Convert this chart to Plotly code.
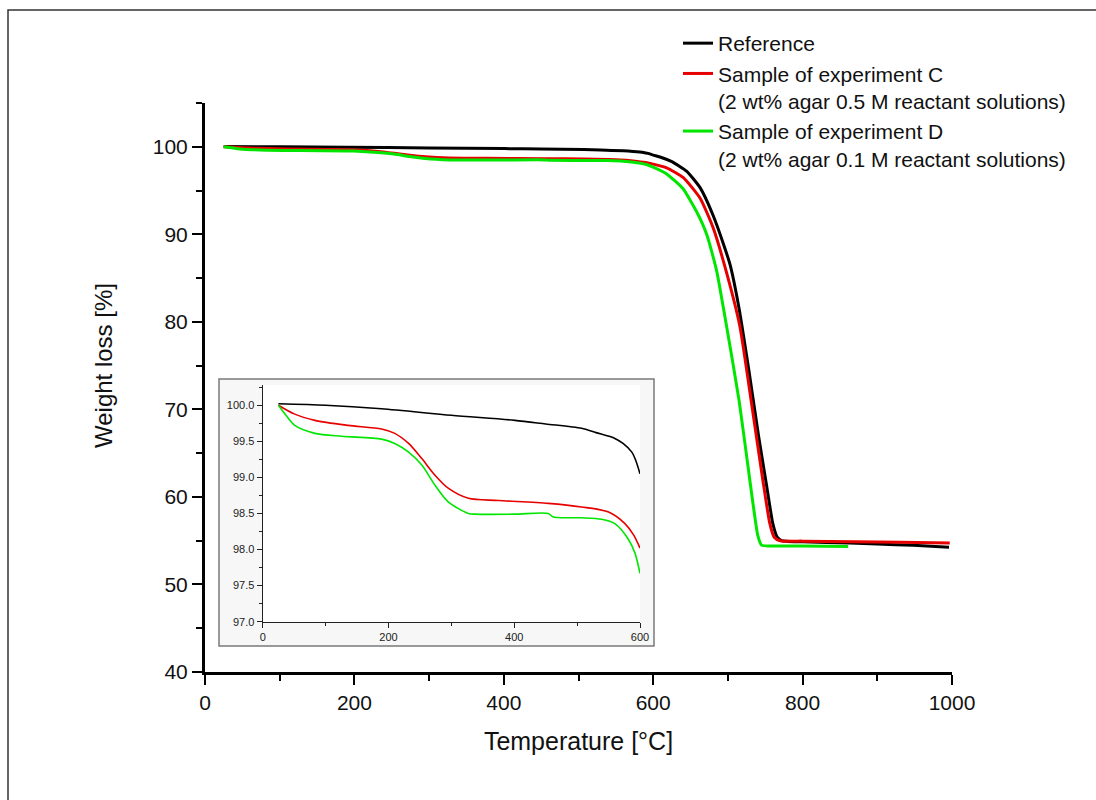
import plotly.graph_objects as go

# ---------------- data ----------------
ref_T = [25, 100, 189, 300, 401, 450, 507, 530, 560, 573, 587, 593, 600, 612, 625, 645, 663, 680, 694,
         703, 715, 728, 741, 752, 760, 766, 772, 780, 800, 863, 900, 948, 996]
ref_W = [100.02, 100.0, 99.95, 99.86, 99.79, 99.74, 99.68, 99.62, 99.54, 99.47, 99.35, 99.24, 99.05, 98.75, 98.3, 97.2, 95.3, 92.2, 88.9,
         86.5, 81.5, 74.5, 67.0, 61.2, 57.0, 55.4, 55.0, 54.92, 54.88, 54.73, 54.62, 54.47, 54.24]

c_T = [25, 50, 83, 136, 189, 210, 232, 253, 274, 295, 327, 375, 454, 507, 550, 576, 590, 600,
       618, 640, 663, 680, 696, 716, 732, 747, 756, 762, 770, 800, 870, 930, 997]
c_W = [100.0, 99.88, 99.79, 99.72, 99.67, 99.61, 99.47, 99.26, 99.03, 98.85, 98.71, 98.68, 98.64, 98.59, 98.52, 98.36, 98.2, 98.02,
       97.6, 96.5, 94.1, 90.8, 86.3, 79.5, 70.5, 61.8, 57.0, 55.4, 55.0, 54.95, 54.88, 54.82, 54.73]

d_T = [25, 38, 51, 83, 126, 189, 210, 232, 253, 274, 295, 327, 338, 400, 454, 462, 507, 539, 560, 581, 592, 600,
       618, 640, 658, 672, 685, 698, 715, 730, 740, 745, 755, 800, 861]
d_W = [100.0, 99.85, 99.72, 99.61, 99.57, 99.53, 99.47, 99.35, 99.17, 98.89, 98.66, 98.50, 98.49, 98.49, 98.50, 98.45, 98.44, 98.42, 98.36, 98.15, 97.95, 97.67,
       96.9, 95.2, 92.6, 89.9, 85.8, 79.6, 71.0, 61.5, 55.6, 54.5, 54.4, 54.38, 54.35]

series_names = ["Reference",
                "Sample of experiment C<br>(2 wt% agar 0.5 M reactant solutions)",
                "Sample of experiment D<br>(2 wt% agar 0.1 M reactant solutions)"]
series_colors = ["#000000", "#e60000", "#00e600"]

main_xticks = [0, 200, 400, 600, 800, 1000]
main_yticks = [40, 50, 60, 70, 80, 90, 100]
inset_xticks = [0, 200, 400, 600]
inset_yticks = [97.0, 97.5, 98.0, 98.5, 99.0, 99.5, 100.0]
INSET_MAX_T = 600

FONT = "Liberation Sans, Arial, sans-serif"

fig = go.Figure()
all_series = [(ref_T, ref_W), (c_T, c_W), (d_T, d_W)]

# main traces
for (T, W), name, col in zip(all_series, series_names, series_colors):
    fig.add_trace(go.Scatter(x=T, y=W, mode="lines", name=name,
                             line=dict(color=col, width=3, shape="spline", smoothing=0.5),
                             xaxis="x", yaxis="y"))

# inset traces (same data, restricted to T <= 600)
for (T, W), name, col in zip(all_series, series_names, series_colors):
    Ti = [t for t in T if t <= INSET_MAX_T]
    Wi = [w for t, w in zip(T, W) if t <= INSET_MAX_T]
    fig.add_trace(go.Scatter(x=Ti, y=Wi, mode="lines", name=name, showlegend=False,
                             line=dict(color=col, width=1.6, shape="spline", smoothing=0.8),
                             xaxis="x2", yaxis="y2"))

W_, H_ = 1096, 800
L, R, Tm, B = 205, 1096 - 952, 103, 800 - 672
pw, ph = W_ - L - R, H_ - Tm - B

def px2x(px):
    return (px - L) / pw

def py2y(py):
    return (H_ - B - py) / ph

fig.update_layout(
    width=W_, height=H_,
    margin=dict(l=L, r=R, t=Tm, b=B, pad=0),
    paper_bgcolor="white", plot_bgcolor="white",
    font=dict(family=FONT, color="#111111"),
    showlegend=True,
    legend=dict(x=px2x(678), y=py2y(23), xanchor="left", yanchor="top",
                font=dict(size=21, family=FONT, color="#111111"),
                bgcolor="rgba(0,0,0,0)", valign="top", tracegroupgap=0),
    xaxis=dict(domain=[0, 1], range=[0, 1000], tickvals=main_xticks,
               ticks="outside", ticklen=10, tickwidth=2, tickcolor="black",
               showline=True, linewidth=3, linecolor="black", showgrid=False, zeroline=False,
               minor=dict(dtick=100, tick0=0, ticks="outside", ticklen=6, tickwidth=2, tickcolor="black", showgrid=False),
               tickfont=dict(size=21, family=FONT, color="#111111"),
               title=dict(text="Temperature [°C]", font=dict(size=25, family=FONT, color="#111111"), standoff=20),
               anchor="y"),
    yaxis=dict(domain=[0, 1], range=[40, 105], tickvals=main_yticks,
               ticks="outside", ticklen=10, tickwidth=2, tickcolor="black",
               showline=True, linewidth=3, linecolor="black", showgrid=False, zeroline=False,
               minor=dict(dtick=10, tick0=45, ticks="outside", ticklen=6, tickwidth=2, tickcolor="black", showgrid=False),
               tickfont=dict(size=21, family=FONT, color="#111111"),
               anchor="x"),
    xaxis2=dict(domain=[px2x(262.7), px2x(640)], range=[0, 600], tickvals=inset_xticks,
                ticks="outside", ticklen=5, tickwidth=1, tickcolor="#222",
                showline=True, linewidth=1.2, linecolor="#222", showgrid=False, zeroline=False,
                minor=dict(dtick=100, tick0=0, ticks="outside", ticklen=3, tickwidth=1, tickcolor="#222", showgrid=False),
                tickfont=dict(size=11, family=FONT, color="#222222"), anchor="y2"),
    yaxis2=dict(domain=[py2y(621.7), py2y(385)], range=[97.0, 100.28], tickvals=inset_yticks,
                tickformat=".1f",
                ticks="outside", ticklen=5, tickwidth=1, tickcolor="#222",
                showline=True, linewidth=1.2, linecolor="#222", showgrid=False, zeroline=False,
                minor=dict(dtick=0.25, tick0=97.0, ticks="outside", ticklen=3, tickwidth=1, tickcolor="#222", showgrid=False),
                tickfont=dict(size=11, family=FONT, color="#222222"), anchor="x2"),
    annotations=[
        dict(text="Weight loss [%]", xref="paper", yref="paper",
             x=px2x(103), y=py2y(366), xanchor="center", yanchor="middle",
             textangle=-90, showarrow=False,
             font=dict(size=24, family=FONT, color="#111111")),
    ],
    shapes=[
        # inset panel
        dict(type="rect", xref="paper", yref="paper",
             x0=px2x(219), x1=px2x(654), y0=py2y(646), y1=py2y(379),
             fillcolor="#f7f7f7", line=dict(color="#7a7a7a", width=1.5), layer="below"),
        # outer frame (only top and left edges fall inside the picture)
        dict(type="path", xref="paper", yref="paper",
             path="M {a},{b} L {a},{c} L {d},{c}".format(a=px2x(8), b=py2y(800), c=py2y(10), d=px2x(1096)),
             line=dict(color="#333333", width=1.5), layer="below"),
    ],
)

fig.write_html("out.html")
